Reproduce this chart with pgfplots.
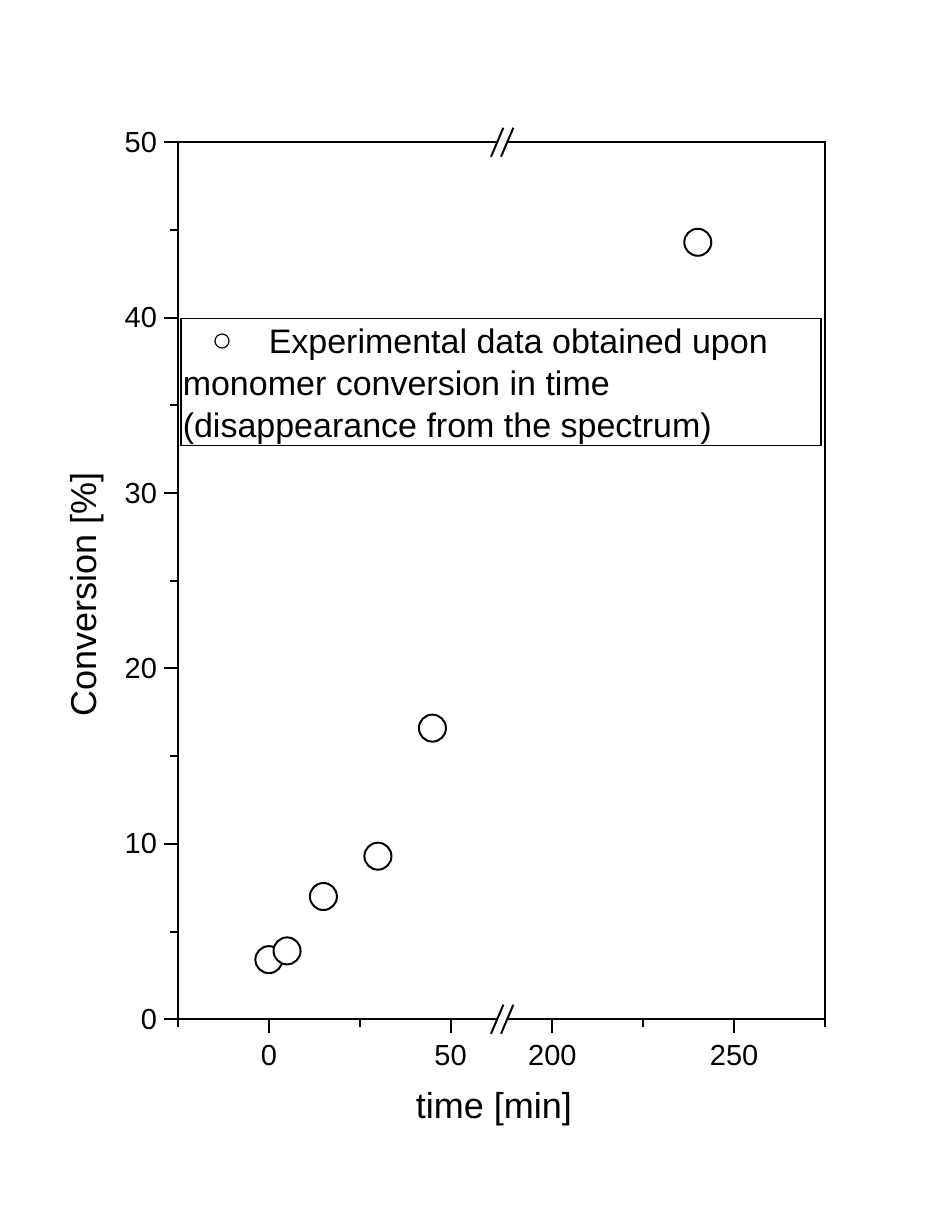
\documentclass[border=0pt]{standalone}
\usepackage{fontspec}
\setmainfont{Liberation Sans}
\usepackage{pgfplots}
\usepackage{pgfplotstable}
\pgfplotsset{compat=1.18}

% time [min] versus monomer conversion [%]
\pgfplotstableread{
t conv
0 3.4
5 3.9
15 7.0
30 9.3
45 16.6
240 44.3
}\conversiondata

\begin{document}
\begin{tikzpicture}
\fill[white] (0,0) rectangle (473.5pt,607pt);
\useasboundingbox (0,0) rectangle (473.5pt,607pt);
\begin{axis}[
  name=ax,
  at={(89pt,97.35pt)}, anchor=south west,
  scale only axis, width=323.5pt, height=438.5pt,
  % broken time axis: 185..275 min is shifted left by 122
  xmin=-25, xmax=153, ymin=0, ymax=50,
  axis line style={line width=1pt},
  every tick/.style={black, line width=1pt},
  tick align=outside, xtick pos=bottom, ytick pos=left,
  major tick length=7pt, minor tick length=4pt,
  xtick={0,50,78,128}, xticklabels={0,50,200,250},
  minor xtick={-25,25,103,153},
  ytick={0,10,...,50}, minor ytick={5,15,...,45},
  tick label style={font=\fontsize{14.5}{16}\selectfont},
  xticklabel style={yshift=-2.5pt},
  /pgf/number format/assume math mode=true,
  xlabel={time [min]}, ylabel={Conversion [\%]},
  label style={font=\fontsize{18}{21}\selectfont},
  xlabel style={at={([xshift=-3.75pt,yshift=-49.5pt]rel axis cs:0.5,0)}, anchor=base},
  ylabel style={at={([xshift=-40.5pt]rel axis cs:0,0.484)}, anchor=base},
  clip=false,
]
\addplot[only marks, mark=*, mark size=6.75pt,
  mark options={fill=white, draw=black, line width=1pt}]
  table[x expr={\thisrow{t}>120 ? \thisrow{t}-122 : \thisrow{t}}, y=conv] {\conversiondata};
\end{axis}
% legend box with its open-circle symbol
\node[draw=black, line width=0.75pt, fill=white, inner sep=0pt, anchor=north west,
  font=\fontsize{17}{21}\selectfont] (leg) at ([xshift=1pt,yshift=-87.85pt]ax.north west)
  {\parbox[t]{320pt}{\raggedright\rule{0pt}{17.5pt}\hspace*{44pt}Experimental data obtained upon\\
   \hspace*{1pt}monomer conversion in time\\
   \hspace*{1pt}(disappearance from the spectrum)\rule[-4pt]{0pt}{4pt}}};
\draw[black, line width=0.6pt, fill=white] ([xshift=21pt,yshift=-11.5pt]leg.north west) circle (3.5pt);
% break marks on the bottom and top axis lines
\foreach \c in {ax.south west, ax.north west} {
  \fill[white] ([xshift=159.5pt,yshift=-1.2pt]\c) rectangle ([xshift=164.5pt,yshift=1.2pt]\c);
  \draw[black, line width=1pt] ([xshift=156.5pt,yshift=-7.25pt]\c) -- ([xshift=162.65pt,yshift=7.25pt]\c);
  \draw[black, line width=1pt] ([xshift=161.5pt,yshift=-7.25pt]\c) -- ([xshift=167.65pt,yshift=7.25pt]\c);
}
\end{tikzpicture}
\end{document}
